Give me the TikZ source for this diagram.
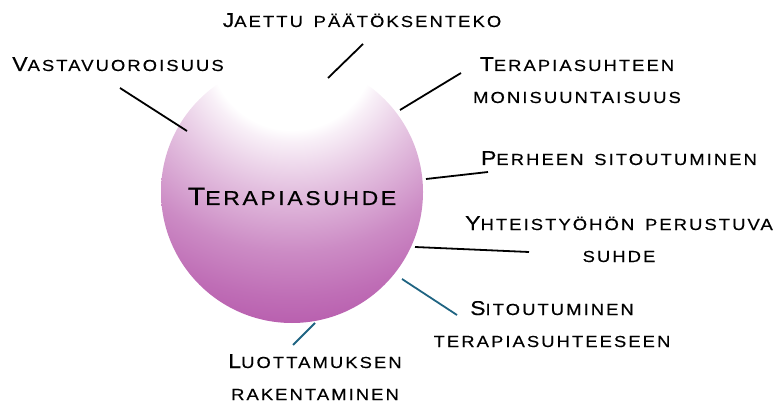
\documentclass[tikz,border=0pt]{standalone}
\usepackage{fontspec}
\usepackage{tikz}
\newfontfamily\kapiteeli[LetterSpace=13,FakeStretch=1.15,WordSpace=1.5,FakeBold=0.4]{Liberation Sans}
\newcommand{\iso}[1]{{\fontsize{20}{32}\selectfont #1}}
\newcommand{\keskiso}[1]{{\fontsize{25}{32}\selectfont #1}}
\definecolor{terapurple}{HTML}{B85EAE}
\definecolor{teal}{HTML}{1F6482}
\pgfdeclareradialshading{terasuhde}{\pgfpoint{0bp}{0bp}}{%
  color(0bp)=(white); color(7.4bp)=(white); color(8.5bp)=(terapurple!10);
  color(10.7bp)=(terapurple!25); color(13bp)=(terapurple!40);
  color(18.3bp)=(terapurple!72); color(22.3bp)=(terapurple!90);
  color(25bp)=(terapurple); color(50bp)=(terapurple)}
\tikzstyle{teema} = [font=\kapiteeli\fontsize{16}{32}\selectfont,
  align=center, inner sep=0pt, anchor=base]
\tikzstyle{yhteys} = [line width=1.8pt, black]
\tikzstyle{tealyhteys} = [line width=1.8pt, teal]

\begin{document}
\begin{tikzpicture}[x=1pt,y=-1pt]
    \useasboundingbox (0,0) rectangle (781,403);
    % pallo
    \begin{scope}
        \clip (292,192) circle (131pt);
        \shade[shading=terasuhde] (292,47) circle (280pt);
    \end{scope}
    \node[circle, minimum size=262pt, inner sep=0pt] (ympyra) at (292,192) {};
    \node[font=\kapiteeli\fontsize{20}{32}\selectfont, inner sep=0pt, anchor=base]
        (keskus) at (292,205) {\keskiso{T}ERAPIASUHDE};
    % teemat (base = viimeisen rivin perusviiva)
    \node[teema] (vasta) at (118,71) {\iso{V}ASTAVUOROISUUS};
    \node[teema] (jaettu) at (362,27) {\iso{J}AETTU PÄÄTÖKSENTEKO};
    \node[teema] (moni) at (577,103) {\iso{T}ERAPIASUHTEEN\\MONISUUNTAISUUS};
    \node[teema] (perhe) at (619,165) {\iso{P}ERHEEN SITOUTUMINEN};
    \node[teema] (yhteistyo) at (619,262) {\iso{Y}HTEISTYÖHÖN PERUSTUVA\\SUHDE};
    \node[teema] (sitout) at (552,347) {\iso{S}ITOUTUMINEN\\TERAPIASUHTEESEEN};
    \node[teema] (luotto) at (315,400) {\iso{L}UOTTAMUKSEN\\RAKENTAMINEN};
    % viivat
    \coordinate (vasta-a) at (120,88);   \coordinate (vasta-b) at (187,131);
    \coordinate (jaettu-a) at (363,44);  \coordinate (jaettu-b) at (328,78);
    \coordinate (moni-a) at (461,73);    \coordinate (moni-b) at (400,110);
    \coordinate (perhe-a) at (488,172);  \coordinate (perhe-b) at (426,179);
    \coordinate (yht-a) at (529,252);    \coordinate (yht-b) at (415,247);
    \coordinate (sit-a) at (457,315);    \coordinate (sit-b) at (402,279);
    \coordinate (luot-a) at (293,345);   \coordinate (luot-b) at (315,323);
    \draw[yhteys] (vasta-a) -- (vasta-b);
    \draw[yhteys] (jaettu-a) -- (jaettu-b);
    \draw[yhteys] (moni-a) -- (moni-b);
    \draw[yhteys] (perhe-a) -- (perhe-b);
    \draw[yhteys] (yht-a) -- (yht-b);
    \draw[tealyhteys] (sit-a) -- (sit-b);
    \draw[tealyhteys] (luot-a) -- (luot-b);
\end{tikzpicture}
\end{document}
